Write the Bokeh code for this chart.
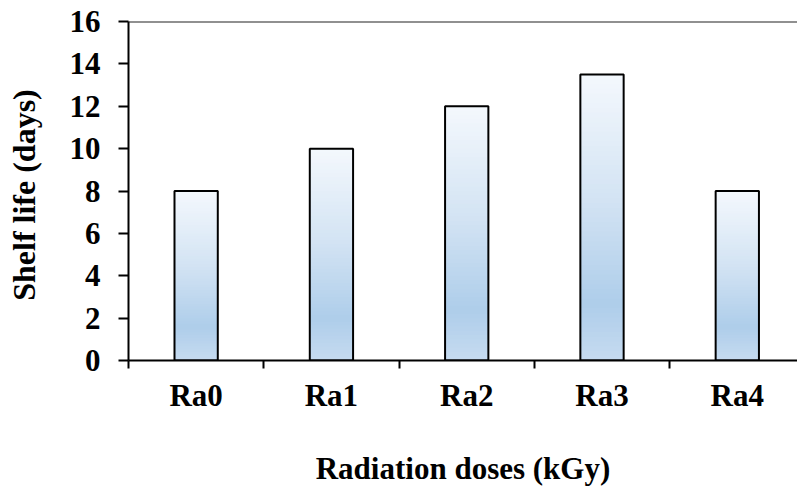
from bokeh.plotting import figure
from bokeh.models import Range1d, FixedTicker, Span, ColumnDataSource
from bokeh.embed import file_html
from bokeh.resources import INLINE

categories = ["Ra0", "Ra1", "Ra2", "Ra3", "Ra4"]
shelf_life = [8, 10, 12, 13.5, 8]
y_ticks = [0, 2, 4, 6, 8, 10, 12, 14, 16]
x_title = "Radiation doses (kGy)"
y_title = "Shelf  life (days)"

FONT = "Liberation Serif"
BAR_W = 0.32
N_SEG = 60

# gradient stops: (fraction from bottom, rgb)
stops = [(0.0, (198, 219, 240)), (0.2, (174, 205, 234)), (0.55, (210, 227, 243)), (1.0, (244, 248, 253))]


def grad_color(f):
    for (f0, c0), (f1, c1) in zip(stops[:-1], stops[1:]):
        if f0 <= f <= f1:
            t = (f - f0) / (f1 - f0)
            c = [round(a + (b - a) * t) for a, b in zip(c0, c1)]
            return "#%02x%02x%02x" % tuple(c)
    return "#%02x%02x%02x" % stops[-1][1]


xs = list(range(len(categories)))
left, right, bottom, top, colors = [], [], [], [], []
for x, v in zip(xs, shelf_life):
    for k in range(N_SEG):
        left.append(x - BAR_W / 2)
        right.append(x + BAR_W / 2)
        bottom.append(v * k / N_SEG)
        top.append(min(v, v * (k + 1.8) / N_SEG))
        colors.append(grad_color((k + 0.5) / N_SEG))
seg_src = ColumnDataSource(dict(left=left, right=right, bottom=bottom, top=top, color=colors))
bar_src = ColumnDataSource(dict(x=xs, top=shelf_life))

p = figure(width=797, height=488, output_backend="svg", toolbar_location=None,
           x_range=Range1d(-0.5, 4.445), y_range=Range1d(0, 16),
           min_border_left=128, min_border_right=0, min_border_top=21, min_border_bottom=126)
p.outline_line_color = None
p.grid.grid_line_color = None
p.background_fill_color = "white"
p.border_fill_color = "white"

p.quad(left="left", right="right", bottom="bottom", top="top", fill_color="color",
       line_color=None, source=seg_src)
p.vbar(x="x", top="top", width=BAR_W, bottom=0, fill_color=None, line_color="black",
       line_width=2, source=bar_src)

p.add_layout(Span(location=16, dimension="width", line_color="#222222", line_width=2))

# x axis
xa = p.xaxis[0]
xa.ticker = FixedTicker(ticks=xs, minor_ticks=[i - 0.5 for i in range(len(categories) + 1)])
xa.major_label_overrides = {i: c for i, c in zip(xs, categories)}
xa.major_tick_line_color = None
xa.major_tick_out = 0
xa.major_tick_in = 0
xa.minor_tick_line_color = "black"
xa.minor_tick_line_width = 2
xa.minor_tick_out = 8
xa.minor_tick_in = 0
xa.axis_line_width = 2
xa.axis_line_color = "black"
xa.major_label_standoff = 9
xa.major_label_text_font = FONT
xa.major_label_text_font_style = "bold"
xa.major_label_text_font_size = "31px"
xa.major_label_text_color = "black"
xa.axis_label = x_title
xa.axis_label_text_font = FONT
xa.axis_label_text_font_style = "bold"
xa.axis_label_text_font_size = "31px"
xa.axis_label_text_color = "black"
xa.axis_label_standoff = 35

# y axis
ya = p.yaxis[0]
ya.ticker = FixedTicker(ticks=y_ticks, minor_ticks=[])
ya.major_tick_out = 10
ya.major_tick_in = 0
ya.major_tick_line_width = 2
ya.major_tick_line_color = "black"
ya.minor_tick_line_color = None
ya.axis_line_width = 2
ya.axis_line_color = "black"
ya.major_label_standoff = 18
ya.major_label_text_font = FONT
ya.major_label_text_font_style = "bold"
ya.major_label_text_font_size = "31px"
ya.major_label_text_color = "black"
ya.axis_label = y_title
ya.axis_label_text_font = FONT
ya.axis_label_text_font_style = "bold"
ya.axis_label_text_font_size = "32px"
ya.axis_label_text_color = "black"
ya.axis_label_standoff = 25

open("out.html", "w").write(file_html(p, INLINE))
